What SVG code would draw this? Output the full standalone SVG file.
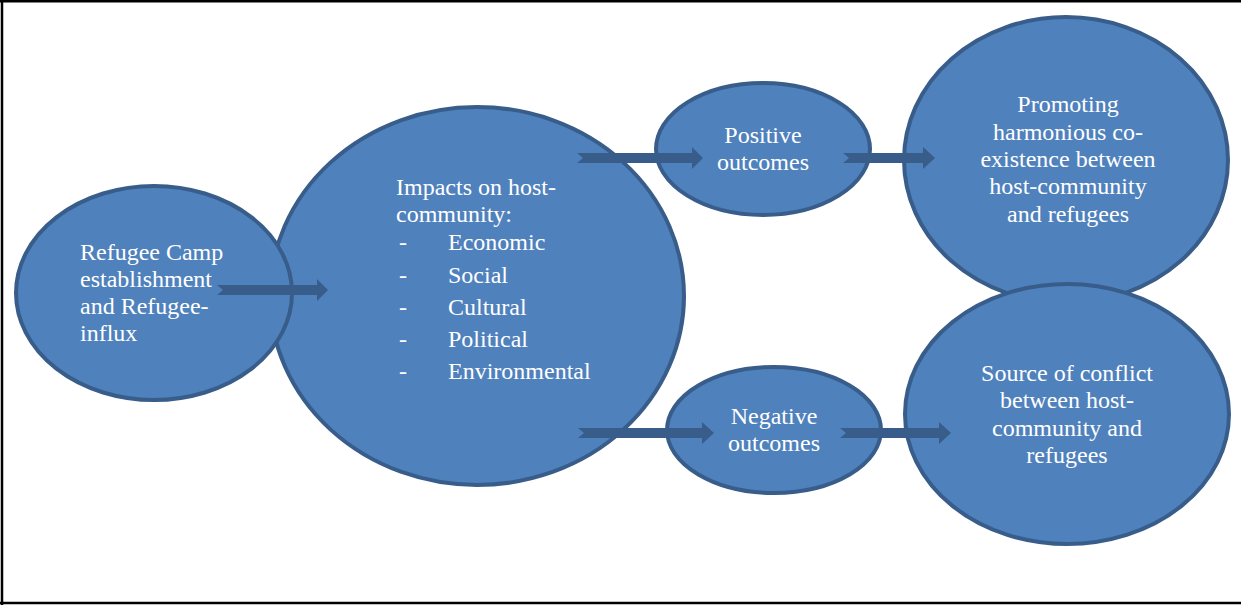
<svg xmlns="http://www.w3.org/2000/svg" width="1241" height="605" viewBox="0 0 1241 605">
  <style>
    .node { fill: #4F81BD; stroke: #385D8A; stroke-width: 4; }
    .arrow { fill: #385D8A; stroke: none; }
    .lbl { font-family: 'Liberation Serif', 'Times New Roman', serif; font-size: 24px; fill: #FFFFFF; }
    .mid { text-anchor: middle; }
    .frame { stroke: #000000; stroke-width: 2.5; fill: none; }
  </style>
  <rect x="0" y="0" width="1241" height="605" fill="#FFFFFF"/>
  <!-- page frame: top, left and bottom rules -->
  <path class="frame" d="M0,1.2 H1241 M2,0 V605 M0,603 H1241"/>

  <g id="node-impacts">
    <ellipse class="node" cx="477" cy="296" rx="207" ry="189"/>
    <text class="lbl" x="396" y="195">Impacts on host-</text>
    <text class="lbl" x="396" y="222">community:</text>
    <text class="lbl" x="399" y="250">-</text><text class="lbl" x="448" y="250">Economic</text>
    <text class="lbl" x="399" y="283">-</text><text class="lbl" x="448" y="283">Social</text>
    <text class="lbl" x="399" y="315">-</text><text class="lbl" x="448" y="315">Cultural</text>
    <text class="lbl" x="399" y="347">-</text><text class="lbl" x="448" y="347">Political</text>
    <text class="lbl" x="399" y="379">-</text><text class="lbl" x="448" y="379">Environmental</text>
  </g>

  <g id="node-refugee-camp">
    <ellipse class="node" cx="154" cy="293" rx="138" ry="107"/>
    <text class="lbl" x="80" y="260">Refugee Camp</text>
    <text class="lbl" x="80" y="287">establishment</text>
    <text class="lbl" x="80" y="314">and Refugee-</text>
    <text class="lbl" x="80" y="341">influx</text>
  </g>

  <g id="node-positive">
    <ellipse class="node" cx="763" cy="149" rx="107" ry="66"/>
    <text class="lbl mid" x="763" y="143">Positive</text>
    <text class="lbl mid" x="763" y="170">outcomes</text>
  </g>

  <g id="node-negative">
    <ellipse class="node" cx="774" cy="430" rx="107" ry="63"/>
    <text class="lbl mid" x="774" y="424">Negative</text>
    <text class="lbl mid" x="774" y="451">outcomes</text>
  </g>

  <g id="node-promoting">
    <ellipse class="node" cx="1066" cy="160" rx="162" ry="143"/>
    <text class="lbl mid" x="1068" y="112">Promoting</text>
    <text class="lbl mid" x="1068" y="140">harmonious co-</text>
    <text class="lbl mid" x="1068" y="167">existence between</text>
    <text class="lbl mid" x="1068" y="194">host-community</text>
    <text class="lbl mid" x="1068" y="222">and refugees</text>
  </g>

  <g id="node-conflict">
    <ellipse class="node" cx="1067" cy="414" rx="162" ry="130"/>
    <text class="lbl mid" x="1067" y="381">Source of conflict</text>
    <text class="lbl mid" x="1067" y="408">between host-</text>
    <text class="lbl mid" x="1067" y="436">community and</text>
    <text class="lbl mid" x="1067" y="463">refugees</text>
  </g>

  <!-- notched block arrows -->
  <g id="connectors">
    <polygon class="arrow" points="217,285 317,285 317,279 328,290 317,301 317,295 217,295 223,290"/>
    <polygon class="arrow" points="577,153 692,153 692,147 703,158 692,169 692,163 577,163 583,158"/>
    <polygon class="arrow" points="843,153 923,153 923,147 935,158 923,169 923,163 843,163 849,158"/>
    <polygon class="arrow" points="578,428 702,428 702,422 714,433 702,444 702,438 578,438 584,433"/>
    <polygon class="arrow" points="840,428 939,428 939,422 951,433 939,444 939,438 840,438 846,433"/>
  </g>
</svg>
